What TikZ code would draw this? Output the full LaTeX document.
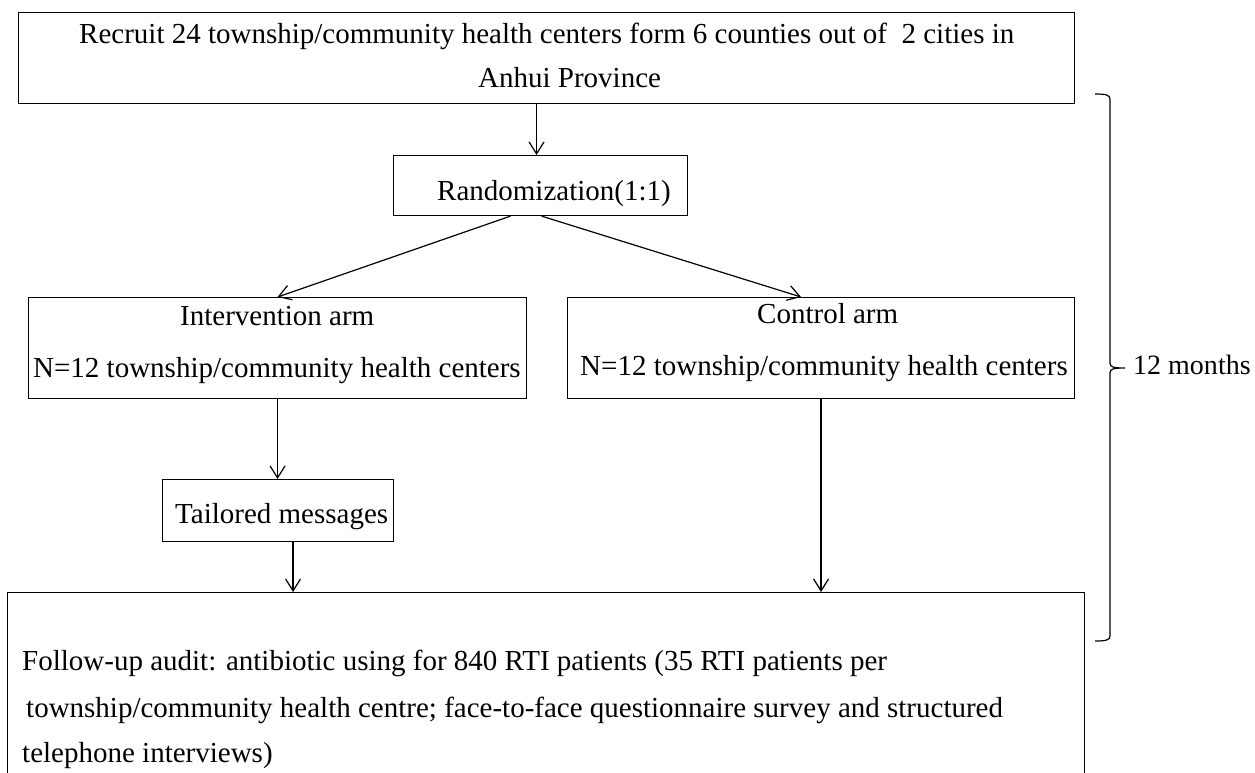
\documentclass[tikz,border=0pt]{standalone}
\usepackage{fontspec}
\setmainfont{Liberation Serif}
\usetikzlibrary{arrows.meta}
\begin{document}
\begin{tikzpicture}[x=1pt,y=-1pt,
  box/.style={draw, line width=1.1pt, rectangle, inner sep=0pt, anchor=north west},
  txt/.style={anchor=base west, inner sep=0pt, font=\fontsize{29}{35}\selectfont},
  conn/.style={line width=1.2pt, -{Straight Barb[length=12pt,width=15pt,line width=1.2pt]}},
  bracepath/.style={line width=1.2pt}
]
\clip (0,0) rectangle (1255,772);
\fill[white] (0,0) rectangle (1255,772);
% boxes
\node[box, minimum width=1056pt, minimum height=91pt] (top) at (18,12) {};
\node[box, minimum width=294pt, minimum height=60pt] (rand) at (393,155) {};
\node[box, minimum width=498pt, minimum height=101pt] (interv) at (28,297) {};
\node[box, minimum width=507pt, minimum height=101pt] (ctrl) at (567,297) {};
\node[box, minimum width=231pt, minimum height=62pt] (tail) at (162,479) {};
\node[box, minimum width=1077pt, minimum height=220pt] (audit) at (7,592) {};
% texts
\node[txt] (t1a) at (79,43) {Recruit 24 township/community health centers form 6 counties out of\ \ 2 cities in};
\node[txt] (t1b) at (478,87) {Anhui Province};
\node[txt] (t2) at (437,200) {Randomization(1:1)};
\node[txt] (t3a) at (180,325) {Intervention arm};
\node[txt] (t3b) at (33,377) {N=12 township/community health centers};
\node[txt] (t4a) at (757,323) {Control arm};
\node[txt] (t4b) at (580,375) {N=12 township/community health centers};
\node[txt] (t5) at (175,523) {Tailored messages};
\node[txt] (t6a) at (22,670) {Follow-up audit: antibiotic using for 840 RTI patients (35 RTI patients per};
\node[txt] (t6b) at (26,717) {township/community health centre; face-to-face questionnaire survey and structured};
\node[txt] (t6c) at (22,762) {telephone interviews)};
\node[txt, font=\fontsize{28}{34}\selectfont] (t7) at (1133,374) {12 months};
% connectors
\draw[conn] ([xshift=-10pt]top.south) -- ([xshift=-10pt]top.south |- rand.north);
\draw[conn] ([xshift=-30pt]rand.south) -- (interv.north);
\draw[conn] ([xshift=1pt]rand.south) -- ([xshift=-20pt]ctrl.north);
\draw[conn] (interv.south) -- (interv.south |- tail.north);
\draw[conn] ([xshift=15pt]tail.south) -- ([xshift=15pt]tail.south |- audit.north);
\draw[conn] (ctrl.south) -- (ctrl.south |- audit.north);
% brace
\draw[bracepath] (1095,94) .. controls (1106,94) and (1110,95) .. (1110,99) -- (1110,363)
  .. controls (1110,367) and (1113,368) .. (1125,368)
  .. controls (1113,368) and (1110,369) .. (1110,373) -- (1110,636)
  .. controls (1110,640) and (1106,641) .. (1095,641);
\end{tikzpicture}
\end{document}
